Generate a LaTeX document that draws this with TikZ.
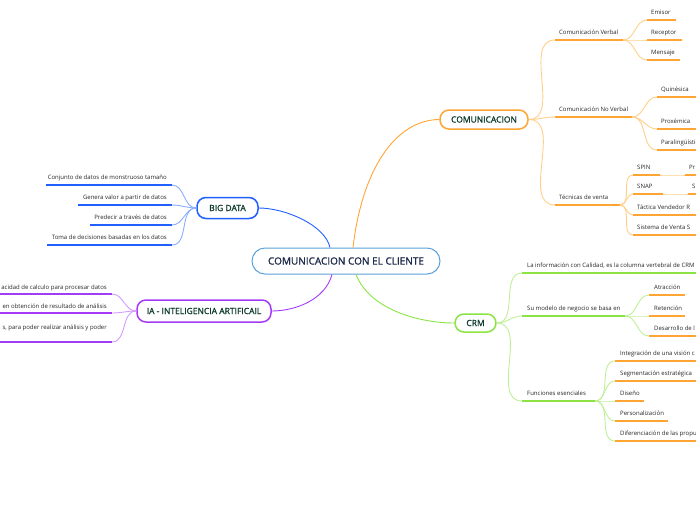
\documentclass[tikz,border=0pt]{standalone}
\usepackage{fontspec}
\setmainfont{Open Sans}
\newfontfamily\temafont[FakeBold=1.2]{Open Sans}

\definecolor{naranja}{HTML}{FFA533}
\definecolor{naranjaclaro}{HTML}{FFCF88}
\definecolor{azul}{HTML}{2160FF}
\definecolor{azulclaro}{HTML}{8AAEFF}
\definecolor{morado}{HTML}{A43BF7}
\definecolor{moradoclaro}{HTML}{D19BFF}
\definecolor{verde}{HTML}{8BE443}
\definecolor{verdeclaro}{HTML}{BFF095}
\definecolor{celeste}{HTML}{5BA0DA}
\definecolor{tinta}{HTML}{0E3B2E}
\definecolor{marino}{HTML}{1D2B4C}

\tikzset{
  tema/.style={draw, line width=1.5pt, rounded corners=9pt, fill=white, text=tinta,
    font=\temafont\fontsize{8.5}{10}\selectfont, inner sep=0pt},
  etiqueta/.style={font=\fontsize{6}{7}\selectfont, text=black!85, inner sep=0pt},
  linea/.style={line width=2pt},
  enlace/.style={line width=0.9pt},
}

\begin{document}
\begin{tikzpicture}[x=1pt,y=-1pt]
\path[use as bounding box, clip] (0,0) rectangle (696,520);

% Central
\node[tema, draw=celeste, text=marino, line width=1pt, minimum width=188pt, minimum height=26pt,
  rounded corners=13pt, font=\temafont\fontsize{10}{12}\selectfont] (cliente) at (346,261) {COMUNICACION CON EL CLIENTE};

% Main topics
\node[tema, draw=naranja, minimum width=88pt, minimum height=19pt] (comunicacion) at (484,119.5) {COMUNICACION};
\node[tema, draw=azul, minimum width=61pt, minimum height=21pt] (bigdata) at (227.5,208) {BIG DATA};
\node[tema, draw=morado, minimum width=134pt, minimum height=22pt] (ia) at (204,311) {IA - INTELIGENCIA ARTIFICAIL};
\node[tema, draw=verde, minimum width=41pt, minimum height=18pt] (crm) at (475.5,323) {CRM};

% Branches from the centre
\draw[enlace, azul] ([xshift=-16pt]cliente.north) .. controls (325,225) and (285,208) .. (bigdata.east);
\draw[enlace, naranja] ([xshift=7pt]cliente.north) .. controls (362,170) and (395,120) .. (comunicacion.west);
\draw[enlace, morado] ([xshift=-14pt]cliente.south) .. controls (325,300) and (295,311) .. (ia.east);
\draw[enlace, verde] ([xshift=10pt]cliente.south) .. controls (370,310) and (420,323) .. (crm.west);

% COMUNICACION
\foreach \nom/\xa/\xb/\y/\txt in {verbal/555/623/40/Comunicación Verbal,
    noverbal/555/632/117/Comunicación No Verbal,
    tecnicas/555/620/205/Técnicas de venta}{
  \coordinate (\nom-a) at (\xa,\y);
  \coordinate (\nom-b) at (\xb,\y);
  \draw[enlace, naranjaclaro] (comunicacion.east) to[out=0,in=180] (\nom-a);
  \draw[linea, naranja] (\nom-a) -- (\nom-b);
  \node[etiqueta, anchor=base west] (\nom) at ([xshift=4pt,yshift=5.5pt]\nom-a) {\txt};
}
\foreach \nom/\padre/\xa/\xb/\y/\txt in {emisor/verbal/647/676/20/Emisor,
    receptor/verbal/647/682/40/Receptor,
    mensaje/verbal/647/680/60/Mensaje,
    quinesica/noverbal/657/700/97/Quinésica,
    proxemica/noverbal/657/700/129/Proxémica,
    paralinguistica/noverbal/657/700/150/Paralingüística,
    spin/tecnicas/633/660/175/SPIN,
    snap/tecnicas/633/663/194/SNAP,
    tactica/tecnicas/633/700/215/Táctica Vendedor R,
    sistema/tecnicas/633/700/235/Sistema de Venta S,
    pr/spin/685/700/175/Pr,
    s/snap/688/700/194/S}{
  \coordinate (\nom-a) at (\xa,\y);
  \coordinate (\nom-b) at (\xb,\y);
  \draw[enlace, naranjaclaro] (\padre-b) to[out=0,in=180] (\nom-a);
  \draw[linea, naranja] (\nom-a) -- (\nom-b);
  \node[etiqueta, anchor=base west] (\nom) at ([xshift=4pt,yshift=5.5pt]\nom-a) {\txt};
}

% CRM
\foreach \nom/\xa/\xb/\y/\txt in {calidad/522/700/273/{La información con Calidad, es la columna vertebral de CRM},
    modelo/522/625/316/Su modelo de negocio se basa en,
    funciones/522/595/401/Funciones esenciales}{
  \coordinate (\nom-a) at (\xa,\y);
  \coordinate (\nom-b) at (\xb,\y);
  \draw[enlace, verdeclaro] (crm.east) to[out=0,in=180] (\nom-a);
  \draw[linea, verde] (\nom-a) -- (\nom-b);
  \node[etiqueta, anchor=base west] (\nom) at ([xshift=5pt,yshift=5.5pt]\nom-a) {\txt};
}
\foreach \nom/\padre/\xa/\xb/\y/\txt in {atraccion/modelo/649/685/295/Atracción,
    retencion/modelo/649/685/316/Retención,
    desarrollo/modelo/649/700/336/Desarrollo de l,
    integracion/funciones/615/700/361/Integración de una visión c,
    segmentacion/funciones/615/700/381/Segmentación estratégica,
    diseno/funciones/615/644/401/Diseño,
    personalizacion/funciones/615/668/421/Personalización,
    diferenciacion/funciones/615/700/441/Diferenciación de las propu}{
  \coordinate (\nom-a) at (\xa,\y);
  \coordinate (\nom-b) at (\xb,\y);
  \draw[enlace, verdeclaro] (\padre-b) to[out=0,in=180] (\nom-a);
  \draw[linea, naranja] (\nom-a) -- (\nom-b);
  \node[etiqueta, anchor=base west] (\nom) at ([xshift=5pt,yshift=5.5pt]\nom-a) {\txt};
}

% BIG DATA
\foreach \nom/\xa/\xb/\y/\txt in {conjunto/172/46/185/Conjunto de datos de monstruoso tamaño,
    genera/172/78/205/Genera valor a partir de datos,
    predecir/172/90/225/Predecir a través de datos,
    toma/172/47/245/Toma de decisiones basadas en los datos}{
  \coordinate (\nom-a) at (\xa,\y);
  \coordinate (\nom-b) at (\xb,\y);
  \draw[enlace, azulclaro] (bigdata.west) to[out=180,in=0] (\nom-a);
  \draw[linea, azul] (\nom-a) -- (\nom-b);
  \node[etiqueta, anchor=base east] (\nom) at ([xshift=-5pt,yshift=5.5pt]\nom-a) {\txt};
}

% IA
\foreach \nom/\y/\ty/\txt in {capacidad/294/289/acidad de calculo para procesar datos,
    obtencion/313/308/en obtención de resultado de análisis,
    realizar/342/329/{s, para poder realizar análisis y poder}}{
  \coordinate (\nom-a) at (112,\y);
  \coordinate (\nom-b) at (-5,\y);
  \draw[enlace, moradoclaro] (ia.west) to[out=180,in=0] (\nom-a);
  \draw[linea, morado] (\nom-a) -- (\nom-b);
  \node[etiqueta, anchor=base east] (\nom) at (107,\ty) {\txt};
}

\end{tikzpicture}
\end{document}
